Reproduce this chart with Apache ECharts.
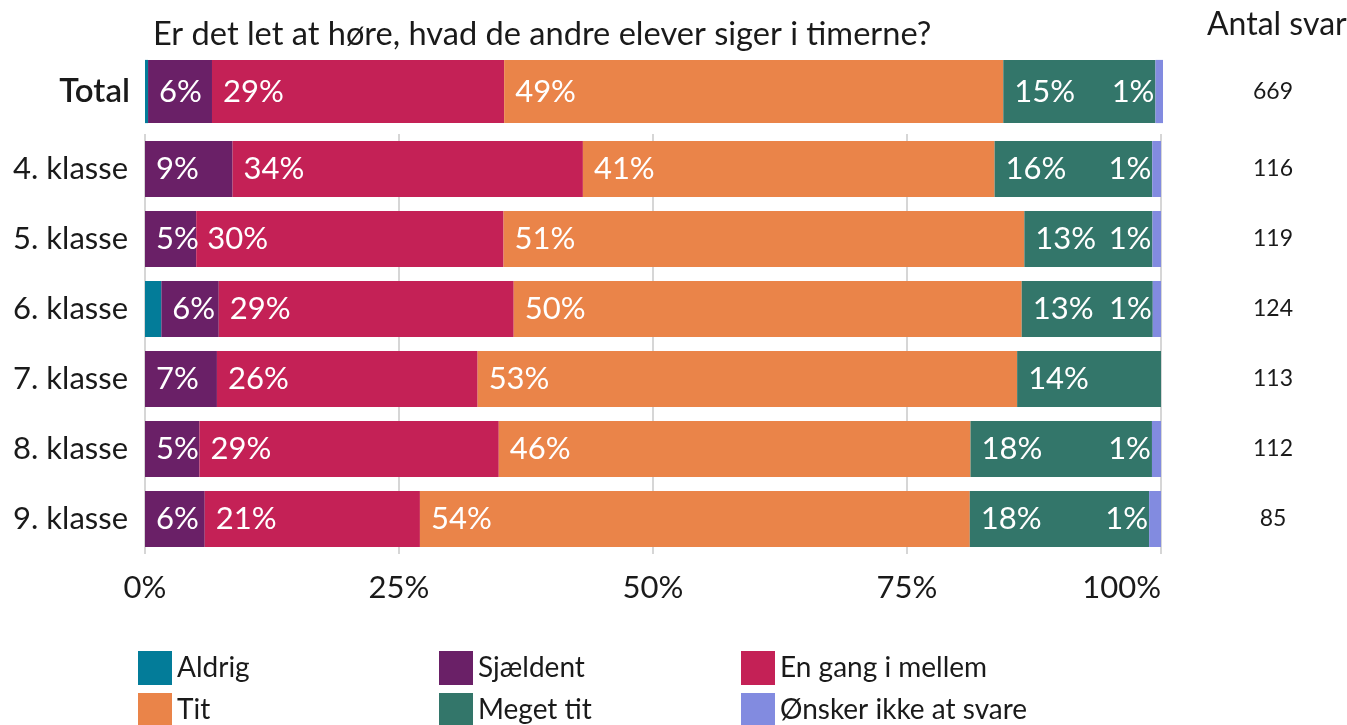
<!DOCTYPE html>
<html>
<head>
<meta charset="utf-8">
<script src="https://cdn.jsdelivr.net/npm/echarts@6/dist/echarts.min.js"></script>
<style>
  html, body { margin: 0; padding: 0; background: #ffffff; }
  #chart { width: 1347px; height: 725px; }
</style>
</head>
<body>
<div id="chart"></div>
<script>
// Svarkategorier og deres farver
const answers = ['Aldrig', 'Sjældent', 'En gang i mellem', 'Tit', 'Meget tit', 'Ønsker ikke at svare'];
const colors = ['#037C99', '#6A2067', '#C42156', '#EA8449', '#33766A', '#828BE0'];

// Samlet fordeling (%)
const totalLabel = ['Total'];
const totalCount = [669];
const totalAldrig = [0.30];
const totalSjaeldent = [6.28];
const totalEnGang = [28.70];
const totalTit = [49.03];
const totalMegetTit = [14.95];
const totalOnsker = [0.75];

// Fordeling pr. klassetrin (%)
const grades = ['4. klasse', '5. klasse', '6. klasse', '7. klasse', '8. klasse', '9. klasse'];
const gradeCount = [116, 119, 124, 113, 112, 85];
const aldrig = [0, 0, 1.61, 0, 0, 0];
const sjaeldent = [8.62, 5.04, 5.65, 7.08, 5.36, 5.88];
const enGang = [34.48, 30.25, 29.03, 25.66, 29.46, 21.18];
const tit = [40.52, 51.26, 50.00, 53.10, 46.43, 54.12];
const megetTit = [15.52, 12.61, 12.90, 14.16, 17.86, 17.65];
const onsker = [0.86, 0.84, 0.81, 0, 0.89, 1.18];

const ticks = [0, 25, 50, 75, 100];

const FONT = 'Lato, "Noto Sans", sans-serif';
const TEXT = '#1a1a1a';

const totalData = [totalAldrig, totalSjaeldent, totalEnGang, totalTit, totalMegetTit, totalOnsker];
const gradeData = [aldrig, sjaeldent, enGang, tit, megetTit, onsker];

function labelFor(i) {
  const base = {
    color: '#ffffff',
    fontFamily: FONT,
    fontSize: 31,
    formatter: p => (p.value > 0 ? Math.round(p.value) + '%' : '')
  };
  if (i === 0) return { show: false };
  if (i === 5) return Object.assign(base, { show: true, position: 'left', distance: 1 });
  return Object.assign(base, { show: true, position: 'insideLeft', distance: 11 });
}

const series = [];
answers.forEach((name, i) => {
  series.push({
    name, type: 'bar', stack: 'total', xAxisIndex: 0, yAxisIndex: 0,
    data: totalData[i], barCategoryGap: '20%',
    itemStyle: { color: colors[i] }, label: labelFor(i), silent: true
  });
  series.push({
    name, type: 'bar', stack: 'grades', xAxisIndex: 1, yAxisIndex: 2,
    data: gradeData[i], barCategoryGap: '20%',
    itemStyle: { color: colors[i] }, label: labelFor(i), silent: true
  });
});

// Forklaring i to rækker med tre kolonner
const legendCols = [138, 439, 741];
const legendRows = [651, 693];
const legends = answers.map((name, i) => ({
  data: [name],
  left: legendCols[i % 3],
  top: legendRows[Math.floor(i / 3)],
  padding: 0,
  itemWidth: 34,
  itemHeight: 34,
  icon: 'rect',
  selectedMode: false,
  textStyle: { fontFamily: FONT, fontSize: 28, color: TEXT }
}));

const chart = echarts.init(document.getElementById('chart'), null, { renderer: 'canvas' });
chart.setOption({
  animation: false,
  backgroundColor: '#ffffff',
  title: [
    {
      text: 'Er det let at høre, hvad de andre elever siger i timerne?',
      left: 148, top: 13,
      textStyle: { fontFamily: FONT, fontSize: 32.6, fontWeight: 'normal', color: TEXT }
    },
    {
      text: 'Antal svar',
      left: 1202, top: 4,
      textStyle: { fontFamily: FONT, fontSize: 32, fontWeight: 'normal', color: TEXT }
    }
  ],
  legend: legends,
  grid: [
    { left: 145, width: 1018, top: 52, height: 79, containLabel: false },
    { left: 145, width: 1016, top: 134, height: 420, containLabel: false }
  ],
  xAxis: [
    {
      gridIndex: 0, type: 'value', min: 0, max: 100, show: false
    },
    {
      gridIndex: 1, type: 'value', min: ticks[0], max: ticks[ticks.length - 1], interval: 25,
      axisLine: { show: false }, axisTick: { show: false },
      splitLine: { show: true, lineStyle: { color: '#c8c8c8', width: 1.5 } },
      axisLabel: {
        formatter: '{value}%', fontFamily: FONT, fontSize: 31, color: TEXT, margin: 18,
        alignMaxLabel: 'right'
      }
    }
  ],
  yAxis: [
    {
      gridIndex: 0, type: 'category', data: totalLabel, inverse: true,
      axisLine: { show: false }, axisTick: { show: false },
      axisLabel: { fontFamily: FONT, fontSize: 33, fontWeight: 600, color: TEXT, margin: 15 }
    },
    {
      gridIndex: 0, type: 'category', data: totalCount, inverse: true, position: 'right',
      axisLine: { show: false }, axisTick: { show: false },
      axisLabel: { fontFamily: FONT, fontSize: 23, color: TEXT, align: 'center', margin: 110 }
    },
    {
      gridIndex: 1, type: 'category', data: grades, inverse: true,
      axisLine: { show: false }, axisTick: { show: false },
      axisLabel: { fontFamily: FONT, fontSize: 31, color: TEXT, margin: 17 }
    },
    {
      gridIndex: 1, type: 'category', data: gradeCount, inverse: true, position: 'right',
      axisLine: { show: false }, axisTick: { show: false },
      axisLabel: { fontFamily: FONT, fontSize: 23, color: TEXT, align: 'center', margin: 112 }
    }
  ],
  series
});
</script>
</body>
</html>
